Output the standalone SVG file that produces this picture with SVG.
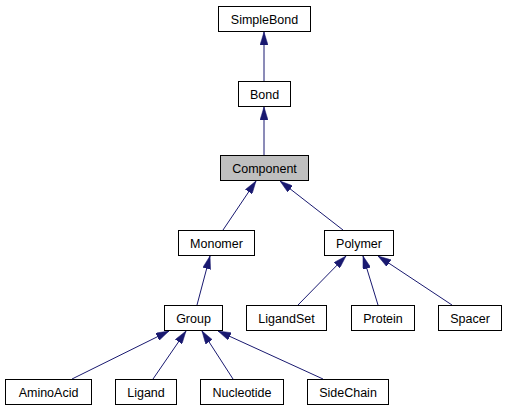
<svg xmlns="http://www.w3.org/2000/svg" width="505" height="411" viewBox="0 0 505 411">
<style>
.node rect{fill:#ffffff;stroke:#000000;stroke-width:1}
.node.hl rect{fill:#bfbfbf}
.node text{font-family:"Liberation Sans",Arial,sans-serif;font-size:12.5px;text-anchor:middle;fill:#000000}
.edges path{fill:none;stroke:#191970;stroke-width:1;marker-end:url(#arr)}
</style>
<defs>
<marker id="arr" viewBox="0 0 13 8" refX="13" refY="4" markerWidth="13" markerHeight="8" markerUnits="userSpaceOnUse" orient="auto">
<path d="M0,0 L13,4 L0,8 z" fill="#191970" stroke="#191970" stroke-width="0.5"/>
</marker>
</defs>
<rect width="505" height="411" fill="#ffffff"/>
<g class="edges" id="edges">
<path d="M264,81 L264,32"/>
<path d="M264,155 L264,107"/>
<path d="M223,230 L256,181"/>
<path d="M343,230 L280,181"/>
<path d="M197,305 L210,256"/>
<path d="M298,305 L346,256"/>
<path d="M378,305 L363,256"/>
<path d="M452,305 L378,256"/>
<path d="M72,379 L169,331"/>
<path d="M153,379 L186,331"/>
<path d="M233,379 L202,331"/>
<path d="M323,379 L218,331"/>
</g>
<g class="node" id="SimpleBond"><rect x="218.5" y="6.5" width="92" height="25"/><text x="264.5" y="23.5">SimpleBond</text></g>
<g class="node" id="Bond"><rect x="238.5" y="81.5" width="52" height="25"/><text x="264.5" y="98.5">Bond</text></g>
<g class="node hl" id="Component"><rect x="220.5" y="155.5" width="88" height="25"/><text x="264.5" y="172.5">Component</text></g>
<g class="node" id="Monomer"><rect x="178.5" y="230.5" width="76" height="25"/><text x="216.5" y="247.5">Monomer</text></g>
<g class="node" id="Polymer"><rect x="324.5" y="230.5" width="69" height="25"/><text x="359" y="247.5">Polymer</text></g>
<g class="node" id="Group"><rect x="164.5" y="305.5" width="58" height="25"/><text x="193.5" y="322.5">Group</text></g>
<g class="node" id="LigandSet"><rect x="246.5" y="305.5" width="80" height="25"/><text x="286.5" y="322.5">LigandSet</text></g>
<g class="node" id="Protein"><rect x="351.5" y="305.5" width="63" height="25"/><text x="383" y="322.5">Protein</text></g>
<g class="node" id="Spacer"><rect x="438.5" y="305.5" width="63" height="25"/><text x="470" y="322.5">Spacer</text></g>
<g class="node" id="AminoAcid"><rect x="5.5" y="379.5" width="86" height="25"/><text x="48.5" y="396.5">AminoAcid</text></g>
<g class="node" id="Ligand"><rect x="115.5" y="379.5" width="61" height="25"/><text x="146" y="396.5">Ligand</text></g>
<g class="node" id="Nucleotide"><rect x="200.5" y="379.5" width="83" height="25"/><text x="242" y="396.5">Nucleotide</text></g>
<g class="node" id="SideChain"><rect x="307.5" y="379.5" width="81" height="25"/><text x="348" y="396.5">SideChain</text></g>
</svg>
